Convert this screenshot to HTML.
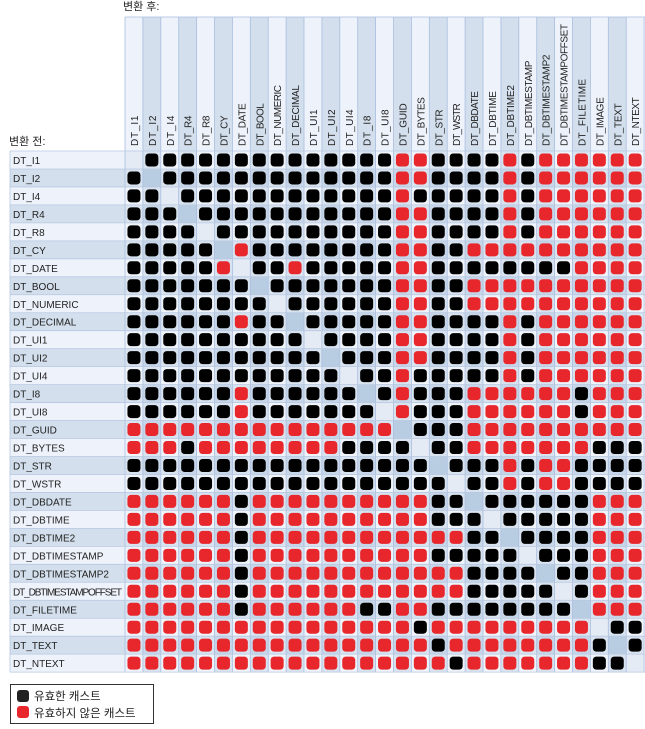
<!DOCTYPE html>
<html><head><meta charset="utf-8"><style>
html,body{margin:0;padding:0;background:#fff;width:645px;height:729px;overflow:hidden}
svg text{font-family:"Liberation Sans","Noto Sans CJK KR",sans-serif;fill:#222}
</style></head><body>
<svg id="s" width="645" height="729" xmlns="http://www.w3.org/2000/svg"></svg>
<script>
var names=["DT_I1","DT_I2","DT_I4","DT_R4","DT_R8","DT_CY","DT_DATE","DT_BOOL","DT_NUMERIC","DT_DECIMAL","DT_UI1","DT_UI2","DT_UI4","DT_I8","DT_UI8","DT_GUID","DT_BYTES","DT_STR","DT_WSTR","DT_DBDATE","DT_DBTIME","DT_DBTIME2","DT_DBTIMESTAMP","DT_DBTIMESTAMP2","DT_DBTIMESTAMPOFFSET","DT_FILETIME","DT_IMAGE","DT_TEXT","DT_NTEXT"];
var d=["-BBBBBBBBBBBBBBRRBBBBRBRRRRRR","B-BBBBBBBBBBBBBRRBBBBRBRRRRRR","BB-BBBBBBBBBBBBRBBBBBRBRRRRRR","BBB-BBBBBBBBBBBRRBBBBRBRRRRRR","BBBB-BBBBBBBBBBRRBBBBRBRRRRRR","BBBBB-RBBBBBBBBRRBBRRRRRRRRRR","BBBBBR-BBRBBBBBRRBBBBBBBBRRRR","BBBBBBB-BBBBBBBRRBBRRRRRRRRRR","BBBBBBBB-BBBBBBRRBBRRRRRRRRRR","BBBBBBRBB-BBBBBRRBBBBRBRRRRRR","BBBBBBBBBB-BBBBRRBBBBRBRRRRRR","BBBBBBBBBBB-BBBRRBBBBRBRRRRRR","BBBBBBBBBBBB-BBRBBBBBRBRRRRRR","BBBBBBRBBBBBB-BRBBBRRRRRRBRRR","BBBBBBRBBBBBBB-RBBBRRRRRRBRRR",
"RRRRRRRRRRRRRRR"+"-BBBRRRRRRRRRR",
"RRRBRRRRRRRRBBB"+"B-BBRRRRRRRBBB",
"BBBBBBBBBBBBBBB"+"BB-BBBRBRRBBBB",
"BBBBBBBBBBBBBBB"+"BBB-BBRBRRBBBB",
"RRRRRRBRRRRRRRR"+"RRBB-BBBBBBRRR",
"RRRRRRBRRRRRRRR"+"RRBBB-BBBBBRRR",
"RRRRRRBRRRRRRRR"+"RRRRBB-BBBBRRR",
"RRRRRRBRRRRRRRR"+"RRBBBBB-BBBRRR",
"RRRRRRBRRRRRRRR"+"RRRRBBBB-BBRRR",
"RRRRRRBRRRRRRRR"+"RRRRBBBBB-BRRR",
"RRRRRRBRRRRRRBB"+"RRBBBBBBBB-RRR",
"RRRRRRRRRRRRRRR"+"RBRRRRRRRRR-BB",
"RRRRRRRRRRRRRRR"+"RRBRRRRRRRRB-B",
"RRRRRRRRRRRRRRR"+"RRRBRRRRRRRBB-"];
var X0=125,W=17.9,Y0=151,H=17.97,N=29,o='';
o+='<text x="123" y="10" font-size="11">변환 후:</text>';
o+='<text x="9" y="145" font-size="11">변환 전:</text>';
for(var c=0;c<N;c++){var x=X0+c*W;o+='<rect x="'+x+'" y="17" width="'+W+'" height="'+(Y0-17)+'" fill="'+(c%2?'#d3dfec':'#eef3fb')+'"/>';
o+='<text transform="translate('+(x+W/2+4)+',146) rotate(-90)" font-size="10" textLength="'+(names[c].length*6.1)+'">'+names[c]+'</text>';}
for(var r=0;r<N;r++){var y=Y0+r*H;o+='<rect x="10" y="'+y+'" width="'+(X0-10)+'" height="'+H+'" fill="'+(r%2?'#d3dfec':'#eef3fb')+'"/>';
o+='<text x="13" y="'+(y+13)+'" font-size="10"'+(names[r].length>16?' textLength="109"':'')+'>'+names[r]+'</text>';}
for(var r=0;r<N;r++)for(var c=0;c<N;c++){var x=X0+c*W,y=Y0+r*H;var k=(r%2)+(c%2);var col=k==0?'#eff3fa':(k==1?'#d8e3ef':'#c6d5e7');if(r==c)col=k==0?'#e4ebf5':'#b9cde2';
o+='<rect x="'+x+'" y="'+y+'" width="'+W+'" height="'+H+'" fill="'+col+'"/>';
var ch=d[r][c];if(ch&&ch!='-'){o+='<rect x="'+(x+W/2-6.5)+'" y="'+(y+H/2-6.5)+'" width="13" height="13" rx="3.5" fill="'+(ch=='B'?'#000':'#e8272c')+'"/>';}}
for(var c=0;c<=N;c++){var x=X0+c*W;o+='<line x1="'+x+'" y1="17" x2="'+x+'" y2="'+(Y0+N*H)+'" stroke="#a9bde0" stroke-width="0.8"/>';}
o+='<line x1="125" y1="17" x2="645" y2="17" stroke="#a9bde0" stroke-width="0.8"/>';
for(var r=0;r<=N;r++){var y=Y0+r*H;o+='<line x1="10" y1="'+y+'" x2="645" y2="'+y+'" stroke="#b8c8e2" stroke-width="0.8"/>';}
o+='<line x1="10" y1="151" x2="10" y2="'+(Y0+N*H)+'" stroke="#b8c8e2" stroke-width="0.8"/>';
o+='<rect x="10.5" y="684.5" width="143" height="39" fill="#fff" stroke="#333"/>';
o+='<rect x="17" y="690" width="12" height="12" rx="3" fill="#222"/><text x="34" y="700" font-size="11.5">유효한 캐스트</text>';
o+='<rect x="17" y="706" width="12" height="12" rx="3" fill="#e8272c"/><text x="34" y="717" font-size="11.5">유효하지 않은 캐스트</text>';
document.getElementById('s').innerHTML=o;
</script>
</body></html>
